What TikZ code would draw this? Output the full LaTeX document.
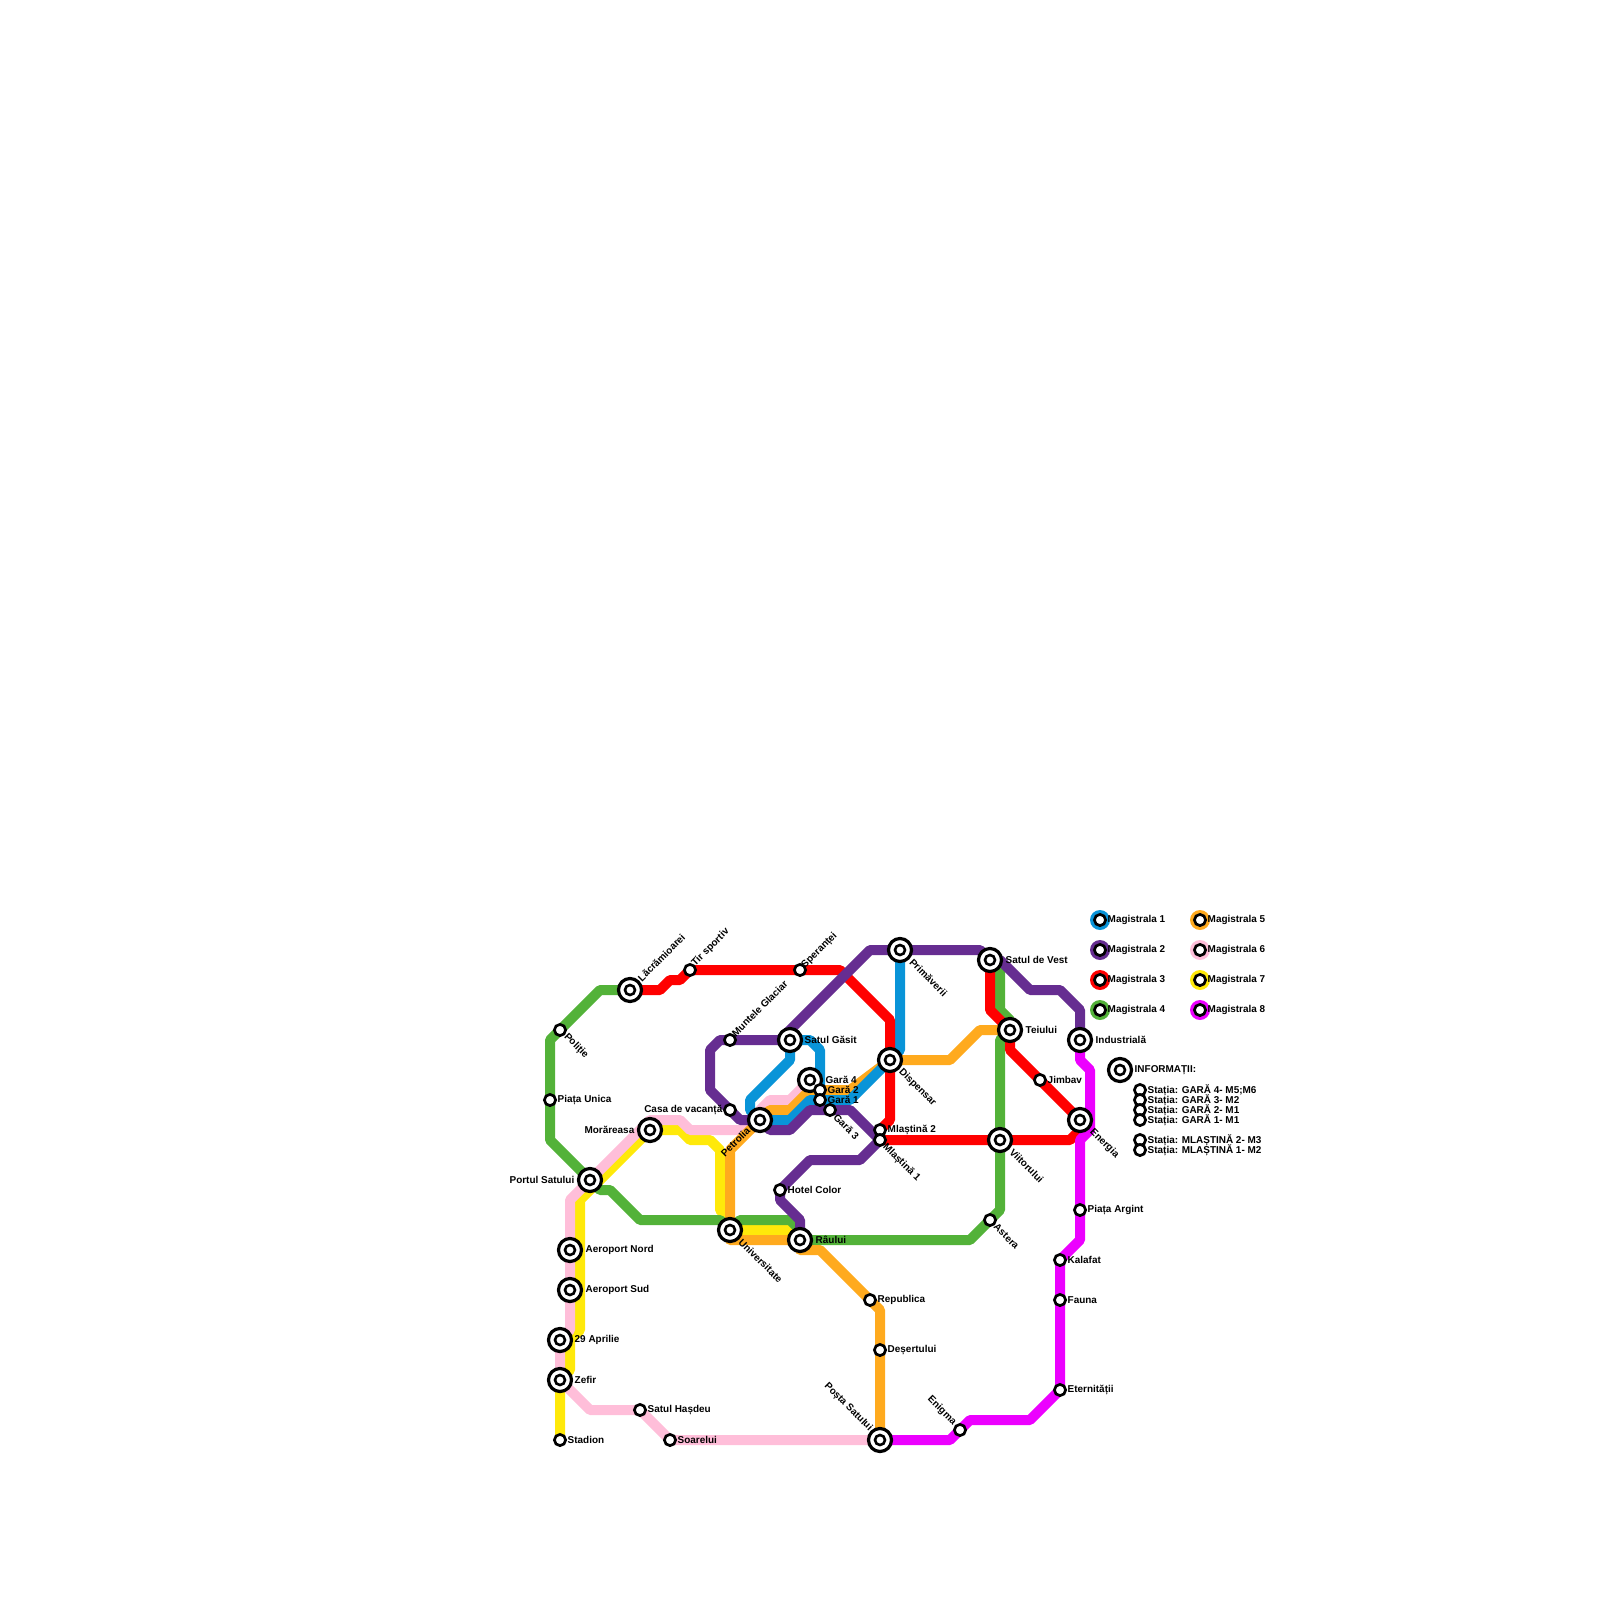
\documentclass[tikz,border=0pt]{standalone}
\usepackage{fontspec}
\setmainfont{Liberation Sans}
\usetikzlibrary{backgrounds}
\definecolor{mblue}{RGB}{9,148,216}
\definecolor{mpurple}{RGB}{102,45,145}
\definecolor{mred}{RGB}{255,0,0}
\definecolor{mgreen}{RGB}{83,178,57}
\definecolor{morange}{RGB}{255,170,30}
\definecolor{mpink}{RGB}{255,190,217}
\definecolor{myellow}{RGB}{255,233,10}
\definecolor{mmagenta}{RGB}{236,0,255}
\tikzset{
  stopsmall/.style={circle, draw=black, fill=white, line width=0.027cm, minimum size=0.112cm, inner sep=0pt},
  stopbig/.style={circle, draw=black, fill=white, line width=0.032cm, minimum size=0.23cm, inner sep=0pt,
    path picture={\draw[black, line width=0.026cm] (path picture bounding box.center) circle (0.05cm);}},
  linedot/.style={circle, fill=#1, minimum size=0.2cm, inner sep=0pt},
  txt/.style={font=\fontsize{2.83}{3.4}\bfseries\selectfont, inner sep=0pt, text=black},
  metro/.style={line width=0.1cm, line join=round, line cap=round, #1}
}

\begin{document}
\begin{tikzpicture}[x=0.01cm, y=-0.01cm]
    \useasboundingbox (0,0) rectangle (1600,1600);

    % Statii mari (doua cercuri)
    \node[stopbig] (lacramioarei) at (630,990) {};
    \node[stopbig] (morareasa) at (650,1130) {};
    \node[stopbig] (portul) at (590,1180) {};
    \node[stopbig] (satulgasit) at (790,1040) {};
    \node[stopbig] (petrolia) at (760,1120) {};
    \node[stopbig] (gara4) at (810,1080) {};
    \node[stopbig] (dispensar) at (890,1060) {};
    \node[stopbig] (primaverii) at (900,950) {};
    \node[stopbig] (satuldevest) at (990,960) {};
    \node[stopbig] (teiului) at (1010,1030) {};
    \node[stopbig] (industriala) at (1080,1040) {};
    \node[stopbig] (energia) at (1080,1120) {};
    \node[stopbig] (viitorului) at (1000,1140) {};
    \node[stopbig] (universitate) at (730,1230) {};
    \node[stopbig] (raului) at (800,1240) {};
    \node[stopbig] (aeronord) at (570,1250) {};
    \node[stopbig] (aerosud) at (570,1290) {};
    \node[stopbig] (aprilie) at (560,1340) {};
    \node[stopbig] (zefir) at (560,1380) {};
    \node[stopbig] (posta) at (880,1440) {};

    % Statii mici (un cerc)
    \node[stopsmall] (tirsportiv) at (690,970) {};
    \node[stopsmall] (sperantei) at (800,970) {};
    \node[stopsmall] (politie) at (560,1030) {};
    \node[stopsmall] (piataunica) at (550,1100) {};
    \node[stopsmall] (casa) at (730,1110) {};
    \node[stopsmall] (muntele) at (730,1040) {};
    \node[stopsmall] (gara2) at (820,1090) {};
    \node[stopsmall] (gara1) at (820,1100) {};
    \node[stopsmall] (gara3) at (830,1110) {};
    \node[stopsmall] (mlastina2) at (880,1130) {};
    \node[stopsmall] (mlastina1) at (880,1140) {};
    \node[stopsmall] (jimbav) at (1040,1080) {};
    \node[stopsmall] (hotel) at (780,1190) {};
    \node[stopsmall] (stadion) at (560,1440) {};
    \node[stopsmall] (hasdeu) at (640,1410) {};
    \node[stopsmall] (soarelui) at (670,1440) {};
    \node[stopsmall] (astera) at (990,1220) {};
    \node[stopsmall] (republica) at (870,1300) {};
    \node[stopsmall] (desertului) at (880,1350) {};
    \node[stopsmall] (enigma) at (960,1430) {};
    \node[stopsmall] (kalafat) at (1060,1260) {};
    \node[stopsmall] (fauna) at (1060,1300) {};
    \node[stopsmall] (eternitatii) at (1060,1390) {};
    \node[stopsmall] (argint) at (1080,1210) {};

    % Traseele, sub statii
    \begin{scope}[on background layer]
        % Magistrala 7
        \draw[metro=myellow] (stadion.center) -- (zefir.center) -- (570,1370) -- (570,1340) -- (580,1330) -- (580,1200) -- (morareasa.center) -- (680,1130) -- (690,1140) -- (710,1140) -- (720,1150) -- (720,1210) -- (730,1220) -- (universitate.center) -- (740,1230) -- (790,1230) -- (raului.center);
        % Magistrala 6
        \draw[metro=mpink] (gara4.center) -- (790,1100) -- (770,1100) -- (760,1110) -- (petrolia.center) -- (750,1130) -- (690,1130) -- (680,1120) -- (650,1120) -- (portul.center) -- (570,1200) -- (aeronord.center) -- (aerosud.center) -- (570,1330) -- (aprilie.center) -- (zefir.center) -- (590,1410) -- (hasdeu.center) -- (soarelui.center) -- (posta.center);
        % Magistrala 4
        \draw[metro=mgreen] (lacramioarei.center) -- (600,990) -- (politie.center) -- (550,1040) -- (piataunica.center) -- (550,1140) -- (portul.center) -- (600,1190) -- (610,1190) -- (640,1220) -- (720,1220) -- (universitate.center) -- (740,1220) -- (790,1220) -- (800,1230) -- (raului.center) -- (970,1240) -- (astera.center) -- (1000,1210) -- (viitorului.center) -- (1000,1040) -- (teiului.center) -- (1010,1020) -- (1000,1010) -- (1000,970) -- (satuldevest.center);
        % Magistrala 5
        \draw[metro=morange] (teiului.center) -- (980,1030) -- (950,1060) -- (dispensar.center) -- (850,1090) -- (gara2.center) -- (810,1090) -- (790,1110) -- (770,1110) -- (petrolia.center) -- (730,1150) -- (universitate.center) -- (730,1240) -- (800,1240) -- (800,1250) -- (820,1250) -- (republica.center) -- (880,1310) -- (desertului.center) -- (posta.center);
        % Magistrala 1
        \draw[metro=mblue] (satulgasit.center) -- (790,1060) -- (750,1100) -- (750,1110) -- (petrolia.center) -- (790,1120) -- (810,1100) -- (850,1100) -- (dispensar.center) -- (900,1050) -- (primaverii.center);
        \draw[metro=mblue] (satulgasit.center) -- (810,1040) -- (820,1050) -- (gara2.center) -- (gara1.center);
        % Magistrala 3
        \draw[metro=mred] (lacramioarei.center) -- (660,990) -- (670,980) -- (680,980) -- (tirsportiv.center) -- (sperantei.center) -- (840,970) -- (890,1020) -- (dispensar.center) -- (890,1120) -- (mlastina2.center) -- (mlastina1.center) -- (viitorului.center) -- (1070,1140) -- (1080,1130) -- (energia.center) -- (jimbav.center) -- (1010,1050) -- (teiului.center) -- (990,1010) -- (satuldevest.center);
        % Magistrala 2
        \draw[metro=mpurple] (industriala.center) -- (1080,1010) -- (1060,990) -- (1030,990) -- (1000,960) -- (satuldevest.center) -- (980,950) -- (primaverii.center) -- (870,950) -- (780,1040) -- (muntele.center) -- (720,1040) -- (710,1050) -- (710,1090) -- (casa.center) -- (740,1120) -- (petrolia.center) -- (770,1130) -- (790,1130) -- (810,1110) -- (gara3.center) -- (850,1110) -- (mlastina1.center) -- (860,1160) -- (810,1160) -- (hotel.center) -- (780,1200) -- (800,1220) -- (raului.center);
        % Magistrala 8
        \draw[metro=mmagenta] (industriala.center) -- (1080,1060) -- (1090,1070) -- (1090,1130) -- (1080,1140) -- (argint.center) -- (1080,1240) -- (kalafat.center) -- (fauna.center) -- (eternitatii.center) -- (1030,1420) -- (970,1420) -- (enigma.center) -- (950,1440) -- (posta.center);
    \end{scope}

    % Texte drepte
    \node[txt, anchor=west] (tpiata) at (557,1100) {Piața Unica};
    \node[txt, anchor=east] (tmorareasa) at (635,1130) {Morăreasa};
    \node[txt, anchor=east] (tcasa) at (723,1110) {Casa de vacanță};
    \node[txt, anchor=east] (tportul) at (575,1180) {Portul Satului};
    \node[txt, anchor=west] (tgasit) at (804,1040) {Satul Găsit};
    \node[txt, anchor=west] (tgara4) at (825,1080) {Gară 4};
    \node[txt, anchor=west] (tgara2) at (827,1090) {Gară 2};
    \node[txt, anchor=west] (tgara1) at (827,1100) {Gară 1};
    \node[txt, anchor=west] (tmlastina2) at (887,1130) {Mlaștină 2};
    \node[txt, anchor=west] (thotel) at (787,1190) {Hotel Color};
    \node[txt, anchor=west] (traului) at (815,1240) {Râului};
    \node[txt, anchor=west] (tvest) at (1005,960) {Satul de Vest};
    \node[txt, anchor=west] (tteiului) at (1025,1030) {Teiului};
    \node[txt, anchor=west] (tjimbav) at (1047,1080) {Jimbav};
    \node[txt, anchor=west] (tindustriala) at (1095,1040) {Industrială};
    \node[txt, anchor=west] (targint) at (1087,1210) {Piața Argint};
    \node[txt, anchor=west] (tkalafat) at (1067,1260) {Kalafat};
    \node[txt, anchor=west] (tfauna) at (1067,1300) {Fauna};
    \node[txt, anchor=west] (teternitatii) at (1067,1390) {Eternității};
    \node[txt, anchor=west] (trepublica) at (877,1300) {Republica};
    \node[txt, anchor=west] (tdesertului) at (887,1350) {Deșertului};
    \node[txt, anchor=west] (tnord) at (585,1250) {Aeroport Nord};
    \node[txt, anchor=west] (tsud) at (585,1290) {Aeroport Sud};
    \node[txt, anchor=west] (taprilie) at (574,1340) {29 Aprilie};
    \node[txt, anchor=west] (tzefir) at (574,1380) {Zefir};
    \node[txt, anchor=west] (tstadion) at (567,1440) {Stadion};
    \node[txt, anchor=west] (thasdeu) at (647,1410) {Satul Hașdeu};
    \node[txt, anchor=west] (tsoarelui) at (677,1440) {Soarelui};

    % Texte inclinate
    \node[txt, anchor=west, rotate=45] (tlacramioarei) at (639,980) {Lăcrămioarei};
    \node[txt, anchor=west, rotate=45] (ttir) at (693,965) {Tir sportiv};
    \node[txt, anchor=west, rotate=45] (tsperantei) at (803,967) {Speranței};
    \node[txt, anchor=west, rotate=45] (tmuntele) at (733,1035) {Muntele Glaciar};
    \node[txt, anchor=west, rotate=45] (tpetrolia) at (722,1155) {Petrolia};
    \node[txt, anchor=west, rotate=-45] (tpolitie) at (565,1035) {Poliție};
    \node[txt, anchor=west, rotate=-45] (tgara3) at (835,1115) {Gară 3};
    \node[txt, anchor=west, rotate=-45] (tmlastina1) at (884,1145) {Mlaștină 1};
    \node[txt, anchor=west, rotate=-45] (tdispensar) at (900,1070) {Dispensar};
    \node[txt, anchor=west, rotate=-45] (tprimaverii) at (911,960) {Primăverii};
    \node[txt, anchor=west, rotate=-45] (tenergia) at (1091,1130) {Energia};
    \node[txt, anchor=west, rotate=-45] (tviitorului) at (1011,1150) {Viitorului};
    \node[txt, anchor=west, rotate=-45] (tastera) at (995,1225) {Astera};
    \node[txt, anchor=west, rotate=-45] (tuniversitate) at (740,1240) {Universitate};
    \node[txt, anchor=east, rotate=-45] (tposta) at (871,1430) {Poșta Satului};
    \node[txt, anchor=east, rotate=-45] (tenigma) at (955,1424) {Enigma};

    % Legenda magistralelor
    \foreach \nr/\col/\yy in {1/mblue/920, 2/mpurple/950, 3/mred/980, 4/mgreen/1010} {
        \node[linedot=\col] (dot\nr) at (1100,\yy) {};
        \node[stopsmall] (stop\nr) at (dot\nr) {};
        \node[txt, anchor=west] (mag\nr) at (1107,\yy) {Magistrala \nr};
    }
    \foreach \nr/\col/\yy in {5/morange/920, 6/mpink/950, 7/myellow/980, 8/mmagenta/1010} {
        \node[linedot=\col] (dot\nr) at (1200,\yy) {};
        \node[stopsmall] (stop\nr) at (dot\nr) {};
        \node[txt, anchor=west] (mag\nr) at (1207,\yy) {Magistrala \nr};
    }

    % Informatii
    \node[stopbig] (info) at (1120,1070) {};
    \node[txt, anchor=west] (tinfo) at (1134,1070) {INFORMAȚII:};
    \node[stopsmall] (inf1) at (1140,1090) {};
    \node[stopsmall] (inf2) at (1140,1100) {};
    \node[stopsmall] (inf3) at (1140,1110) {};
    \node[stopsmall] (inf4) at (1140,1120) {};
    \node[stopsmall] (inf5) at (1140,1140) {};
    \node[stopsmall] (inf6) at (1140,1150) {};
    \node[txt, anchor=west] (tinf1) at (1147,1090) {Stația: GARĂ 4- M5;M6};
    \node[txt, anchor=west] (tinf2) at (1147,1100) {Stația: GARĂ 3- M2};
    \node[txt, anchor=west] (tinf3) at (1147,1110) {Stația: GARĂ 2- M1};
    \node[txt, anchor=west] (tinf4) at (1147,1120) {Stația: GARĂ 1- M1};
    \node[txt, anchor=west] (tinf5) at (1147,1140) {Stația: MLAȘTINĂ 2- M3};
    \node[txt, anchor=west] (tinf6) at (1147,1150) {Stația: MLAȘTINĂ 1- M2};
\end{tikzpicture}
\end{document}
